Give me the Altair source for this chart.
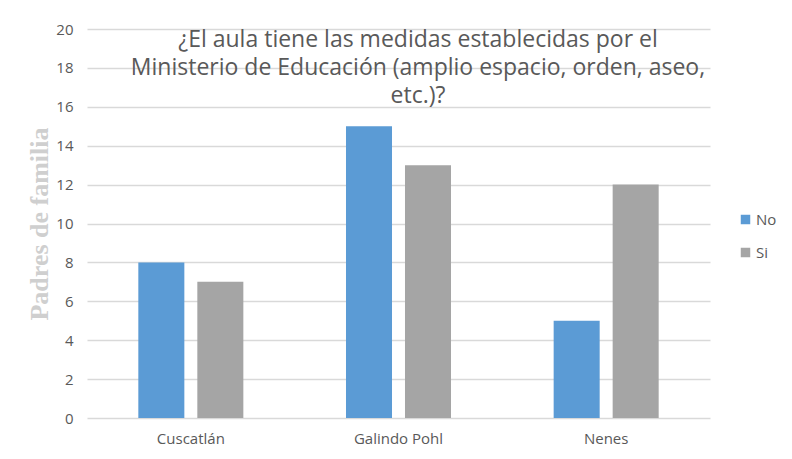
import altair as alt
import pandas as pd

categories = ["Cuscatlán", "Galindo Pohl", "Nenes"]
series = ["No", "Si"]
no_values = [8, 15, 5]
si_values = [7, 13, 12]
title_lines = ["¿El aula tiene las medidas establecidas por el",
               "Ministerio de Educación (amplio espacio, orden, aseo,",
               "etc.)?"]

rows = []
for c, n, s in zip(categories, no_values, si_values):
    rows.append({"Escuela": c, "Respuesta": "No", "Valor": n})
    rows.append({"Escuela": c, "Respuesta": "Si", "Valor": s})
df = pd.DataFrame(rows)

W, H = 623, 389
FONT = "Open Sans"
GRAY = "#595959"

bars = alt.Chart(df).mark_bar().encode(
    x=alt.X("Escuela:N", sort=categories,
            scale=alt.Scale(paddingInner=0, paddingOuter=0),
            axis=alt.Axis(title=None, labelAngle=0, ticks=False, domain=False,
                          labelPadding=13, labelFontSize=15, labelColor=GRAY,
                          labelFont=FONT, grid=False)),
    xOffset=alt.XOffset("Respuesta:N", sort=series,
                        scale=alt.Scale(paddingInner=0.22, paddingOuter=0.87)),
    y=alt.Y("Valor:Q", scale=alt.Scale(domain=[0, 20]),
            axis=alt.Axis(title="Padres de familia", values=list(range(0, 21, 2)),
                          ticks=False, domain=False, grid=True, gridColor="#d9d9d9",
                          gridWidth=1.3,
                          labelPadding=14, labelFontSize=15, labelColor=GRAY,
                          labelFont=FONT,
                          titleFont="Liberation Serif", titleFontSize=26,
                          titleFontWeight="bold", titleColor="#cfcfcf",
                          titlePadding=3)),
    color=alt.Color("Respuesta:N", sort=series,
                    scale=alt.Scale(domain=series, range=["#5B9BD5", "#A5A5A5"]),
                    legend=alt.Legend(title=None, orient="none", legendX=651,
                                      legendY=183, symbolType="square",
                                      symbolSize=90, symbolStrokeWidth=0,
                                      labelFontSize=15, labelColor=GRAY,
                                      labelFont=FONT, rowPadding=17,
                                      labelOffset=3)),
)

title_df = pd.DataFrame({"t": ["\n".join(title_lines)]})
title = alt.Chart(title_df).mark_text(
    font=FONT, fontSize=23, color=GRAY, align="center", baseline="top",
    lineBreak="\n", lineHeight=28
).encode(text="t:N", x=alt.value(331), y=alt.value(0))

frame = alt.Chart(title_df).mark_rule(color="#d9d9d9", strokeWidth=1.5).encode(
    x=alt.value(-42), x2=alt.value(705), y=alt.value(-22))

chart = alt.layer(frame, bars, title).properties(
    width=W, height=H,
    background="white",
    autosize=alt.AutoSizeParams(type="none"),
    padding={"left": 79, "top": 21, "right": 74, "bottom": 33},
).configure_view(stroke=None, strokeWidth=0)

chart.save("out.html", embed_options={"renderer": "svg", "actions": False})
